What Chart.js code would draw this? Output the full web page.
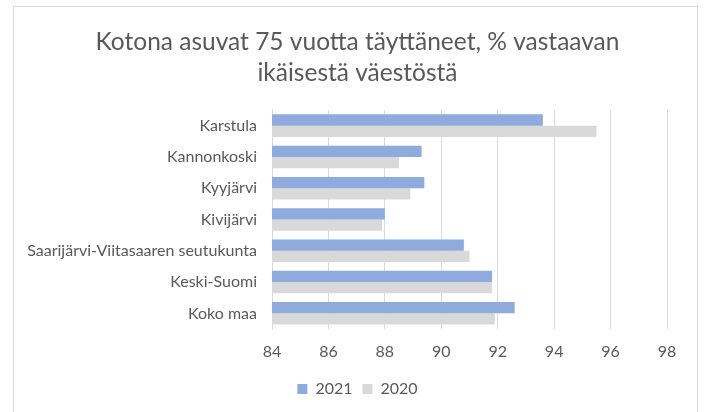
<!DOCTYPE html>
<html>
<head>
<meta charset="utf-8">
<script src="https://cdn.jsdelivr.net/npm/chart.js@4/dist/chart.umd.min.js"></script>
<style>
  html, body { margin: 0; padding: 0; background: #ffffff; }
  #wrap { position: relative; width: 705px; height: 412px; overflow: hidden; }
  #frame { position: absolute; left: 13px; top: 6px; width: 685px; height: 420px; border: 1px solid #d9d9d9; box-sizing: border-box; }
  canvas { position: absolute; left: 0; top: 0; }
</style>
</head>
<body>
<div id="wrap">
  <div id="frame"></div>
  <canvas id="chart" width="705" height="412"></canvas>
</div>
<script>
// Alueet ja osuudet (%)
const categories = ['Karstula', 'Kannonkoski', 'Kyyjärvi', 'Kivijärvi',
  'Saarijärvi-Viitasaaren seutukunta', 'Keski-Suomi', 'Koko maa'];
const values2021 = [93.6, 89.3, 89.4, 88.0, 90.8, 91.8, 92.6];
const values2020 = [95.5, 88.5, 88.9, 87.9, 91.0, 91.8, 91.9];
const seriesLabels = ['2021', '2020'];
const titleLines = ['Kotona asuvat 75 vuotta täyttäneet, % vastaavan', 'ikäisestä väestöstä'];
const axisMin = 84, axisMax = 98, axisStep = 2;

const textColor = '#595959';
const fontFamily = 'Lato, "Open Sans", sans-serif';

// Centre the title and legend under the framed chart rather than the plot column
const centreBoxes = {
  id: 'centreBoxes',
  afterLayout(chart) {
    for (const box of [chart.legend, chart.titleBlock]) {
      if (box) { box.left += 24; box.right += 24; }
    }
  }
};

new Chart(document.getElementById('chart'), {
  type: 'bar',
  data: {
    labels: categories,
    datasets: [
      { label: seriesLabels[0], data: values2021, backgroundColor: '#8faadc', borderWidth: 0,
        categoryPercentage: 0.72, barPercentage: 1.0 },
      { label: seriesLabels[1], data: values2020, backgroundColor: '#d9d9d9', borderWidth: 0,
        categoryPercentage: 0.72, barPercentage: 1.0 }
    ]
  },
  plugins: [centreBoxes],
  options: {
    indexAxis: 'y',
    responsive: false,
    animation: false,
    layout: { padding: { top: 27, right: 38, bottom: 5, left: 0 } },
    plugins: {
      title: {
        display: true,
        text: titleLines,
        color: textColor,
        font: { family: fontFamily, size: 24.5, weight: 'normal', lineHeight: 1.265 },
        padding: { top: 0, bottom: 21 }
      },
      legend: {
        position: 'bottom',
        labels: {
          color: textColor,
          font: { family: fontFamily, size: 16 },
          boxWidth: 10,
          boxHeight: 10,
          padding: 10
        }
      },
      tooltip: { enabled: false }
    },
    scales: {
      x: {
        min: axisMin,
        max: axisMax,
        ticks: { stepSize: axisStep, color: textColor, font: { family: fontFamily, size: 16 }, padding: 13 },
        grid: { color: '#d9d9d9', lineWidth: 1, drawTicks: false },
        border: { display: false },
        afterFit: (scale) => { scale.height = 42; }
      },
      y: {
        ticks: { color: textColor, font: { family: fontFamily, size: 16 }, padding: 15 },
        grid: { display: false, drawTicks: false },
        border: { display: true, color: '#d9d9d9', width: 1 },
        afterFit: (scale) => { scale.width = 272; }
      }
    }
  }
});
</script>
</body>
</html>
